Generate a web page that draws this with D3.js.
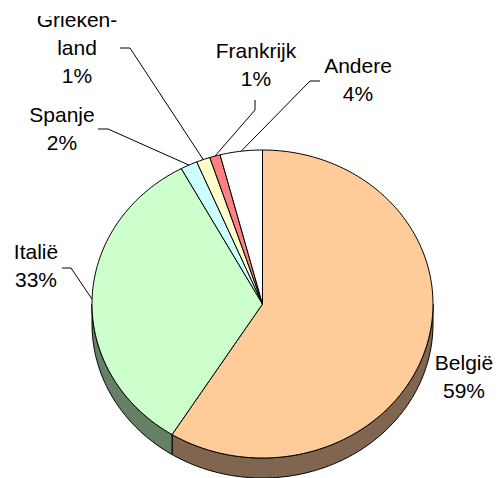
<!DOCTYPE html>
<html>
<head>
<meta charset="utf-8">
<script src="https://cdn.jsdelivr.net/npm/d3@7"></script>
<style>
  body { margin: 0; background: #fff; }
  svg { display: block; font-family: "Liberation Sans", Arial, sans-serif; }
</style>
</head>
<body>
<div id="chart"></div>
<script>
// data
const categories = ["België", "Italië", "Spanje", "Griekenland", "Frankrijk", "Andere"];
const values = [58.9, 33.2, 1.6, 1.3, 1.0, 4.0];
const nameLines = [["België"], ["Italië"], ["Spanje"], ["Grieken-", "land"], ["Frankrijk"], ["Andere"]];
const percentLabels = ["59%", "33%", "2%", "1%", "1%", "4%"];

const topColors = ["#ffcc99", "#ccffcc", "#ccffff", "#ffffcc", "#ff8080", "#ffffff"];
const sideColors = ["#806650", "#668066", "#668080", "#808066", "#804040", "#808080"];

// label layout: centre x, first baseline, leader start points
const labelPos = [
    { x: 464, y: 370, leader: null },
    { x: 36, y: 259, leader: [[62, 268], [71, 268]] },
    { x: 62, y: 122, leader: [[98, 129], [108, 129]] },
    { x: 77, y: 27, leader: [[120, 48], [130, 48]] },
    { x: 256, y: 58, leader: [[255, 100], [255, 110]] },
    { x: 358, y: 73, leader: [[320, 81], [310, 81]] }
];

const width = 498, height = 478;
const cx = 262.5, cy = 304, rx = 170.5, ry = 154, depth = 20;
const lineH = 28;

const svg = d3.select("#chart").append("svg")
    .attr("width", width)
    .attr("height", height);

// the original plot area cuts off the top of the first label
svg.append("clipPath").attr("id", "plotClip")
    .append("rect").attr("x", 0).attr("y", 16).attr("width", width).attr("height", height - 16);

const g = svg.append("g").attr("clip-path", "url(#plotClip)");

const pie = d3.pie().sort(null).startAngle(0).endAngle(2 * Math.PI);
const arcs = pie(values);

// point on the tilted ellipse, angle clockwise from 12 o'clock
function pt(a, dy) {
    return [cx + rx * Math.sin(a), cy + (dy || 0) - ry * Math.cos(a)];
}

function edge(a0, a1, dy) {
    const n = Math.max(2, Math.ceil(Math.abs(a1 - a0) / 0.02));
    const pts = [];
    for (let i = 0; i <= n; i++) pts.push(pt(a0 + (a1 - a0) * i / n, dy));
    return pts;
}

const line = d3.line();

// side walls (front half only)
arcs.forEach((d, i) => {
    const a0 = Math.max(d.startAngle, Math.PI / 2);
    const a1 = Math.min(d.endAngle, 3 * Math.PI / 2);
    if (a1 <= a0) return;
    const pts = edge(a0, a1, 0).concat(edge(a1, a0, depth));
    g.append("path")
        .attr("d", line(pts) + "Z")
        .attr("fill", sideColors[i])
        .attr("stroke", "#000")
        .attr("stroke-width", 1)
        .attr("stroke-linejoin", "round");
});

// top faces
arcs.forEach((d, i) => {
    const pts = [[cx, cy]].concat(edge(d.startAngle, d.endAngle, 0));
    g.append("path")
        .attr("d", line(pts) + "Z")
        .attr("fill", topColors[i])
        .attr("stroke", "#000")
        .attr("stroke-width", 1)
        .attr("stroke-linejoin", "round");
});

// leader lines
arcs.forEach((d, i) => {
    const lp = labelPos[i];
    if (!lp.leader) return;
    const mid = (d.startAngle + d.endAngle) / 2;
    const pts = lp.leader.concat([pt(mid, 0)]);
    g.append("path")
        .attr("d", line(pts))
        .attr("fill", "none")
        .attr("stroke", "#000")
        .attr("stroke-width", 1);
});

// labels
categories.forEach((c, i) => {
    const lp = labelPos[i];
    const lines = nameLines[i].concat([percentLabels[i]]);
    const t = g.append("text")
        .attr("x", lp.x)
        .attr("y", lp.y)
        .attr("text-anchor", "middle")
        .attr("font-size", 21)
        .attr("fill", "#000");
    lines.forEach((s, k) => {
        t.append("tspan").attr("x", lp.x).attr("y", lp.y + k * lineH).text(s);
    });
});
</script>
</body>
</html>
